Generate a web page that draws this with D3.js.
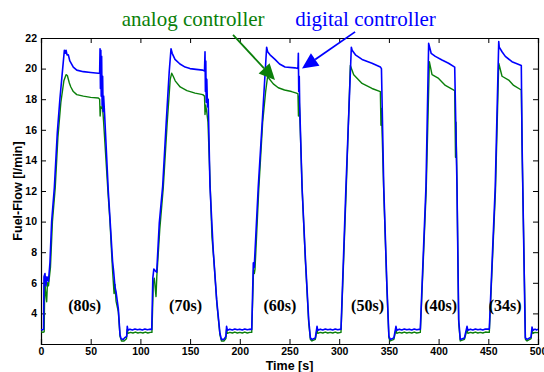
<!DOCTYPE html>
<html lang="en">
<head>
  <meta charset="utf-8">
  <title>Fuel-Flow: analog vs digital controller</title>
  <script src="https://d3js.org/d3.v7.min.js"></script>
  <style>
    body { margin: 0; background: #fff; }
    svg { display: block; }
    .tick-label { font-family: "Liberation Sans", Arial, sans-serif; font-weight: bold; font-size: 10.5px; }
    .axis-title { font-family: "Liberation Sans", Arial, sans-serif; font-weight: bold; font-size: 12.5px; }
    .cycle-label { font-family: "Liberation Serif", "Times New Roman", serif; font-weight: bold; font-size: 16px; }
    .legend-label { font-family: "Liberation Serif", "Times New Roman", serif; font-size: 21px; }
  </style>
</head>
<body>
<div id="chart"></div>
<script>
// tick values
const xTicks = [0, 50, 100, 150, 200, 250, 300, 350, 400, 450, 500];
const yTicks = [4, 6, 8, 10, 12, 14, 16, 18, 20, 22];

// digital controller (blue), [time s, flow l/min]
const digitalFlow = [
  [0,2.95],[1.5,2.92],[2.6,2.97],[3,6.4],[4,6.6],[5,5.8],[6,6.4],[7.5,6.1],[9,7.3],[10.7,10],[13.4,12.2],[16.4,15.8],[19,18],[21.8,20],
  [23.5,21.2],[24.5,21.0],[25.2,21.2],[26.2,20.9],[27.5,20.9],[29,20.5],[32.5,20.1],[36,19.9],[42.6,19.8],[50,19.75],[57.6,19.7],[59,19.7],
  [59.4,21.3],[59.8,18.7],[60.2,21.2],[60.6,18.2],[61,20.8],[61.5,17.6],[62,19.5],[62.5,17.2],[63,18.2],[64,17.0],[67.7,12],[69.4,10.2],
  [72,7.4],[73,6.8],[74.4,5.75],[75.5,5.4],[77.8,4.3],[79.5,2.6],[80.5,2.35],[82.8,2.3],[84,2.4],[86.2,2.5],[86.8,3.15],[87.5,2.9],
  [89.5,2.97],[92,2.92],[94.5,2.98],[97,2.93],[99.5,2.97],[102,2.92],[104.5,2.98],[107,2.93],[109.5,2.97],[111.4,2.95],
  [112.5,6.3],[113.5,6.9],[114.7,6.8],[116.4,6.7],[119,9.9],[122.4,12.3],[126,16.5],[129,19.8],[130.8,21.3],[132,21.0],[134.8,20.6],
  [139.8,20.3],[145,20.1],[149.9,20.0],[156,19.95],[162.7,19.9],[164.5,19.85],
  [165,21.1],[165.4,18.5],[165.8,20.5],[166.2,17.8],[166.8,19.3],[167.5,17.5],[168.2,18],[170,12.3],[173.3,8.1],[175,6.5],[176.7,4.9],
  [180,2.7],[181.5,2.3],[184,2.3],[186,2.5],[186.7,3.15],[187.5,2.9],[190,2.97],[192.5,2.92],[195,2.98],[197.5,2.93],[200,2.97],[202.5,2.92],
  [205,2.98],[207.5,2.93],[210,2.97],[212,2.95],
  [213.6,7.3],[214.5,7.0],[218.6,12.3],[223,17],[227,21.4],[228,21.1],[230.4,20.9],[235.4,20.6],[240,20.3],[245.5,20.1],[255.5,20.05],[258.5,20.0],
  [258.9,21.0],[259.3,18.5],[259.8,19.5],[260.3,17.5],[262.6,12.3],[266,7.6],[269.3,3.6],[271,2.4],[272.6,2.3],[276,2.4],[277.7,3.15],[278.5,2.9],
  [281,2.97],[283.5,2.92],[286,2.98],[288.5,2.93],[291,2.97],[293.5,2.92],[296,2.98],[298.5,2.93],[301.8,2.97],
  [306.8,12.3],[312.2,21.4],[313,21.2],[316.3,20.9],[323,20.6],[333,20.35],[341.4,20.1],[342.5,20.0],[344.8,12.3],[348,5.8],[350,2.5],
  [351.4,2.3],[355,2.4],[357.1,3.15],[358,2.9],[360.5,2.97],[363,2.92],[365.5,2.98],[368,2.93],[370.5,2.97],[373,2.92],[375.5,2.98],[378,2.93],[381.6,2.97],
  [387.3,12.3],[390,21.65],[392.5,21.0],[396.7,20.8],[403.4,20.56],[410,20.35],[416.2,20.1],[418.5,12.3],[420.2,3.6],[421.8,2.3],[426,2.4],
  [428.6,3.15],[429.5,2.9],[432,2.97],[434.5,2.92],[437,2.98],[439.5,2.93],[442,2.97],[444.5,2.92],[447,2.98],[451,2.97],
  [457,12.3],[460.5,21.76],[461,21.4],[463.8,21.1],[467.1,20.8],[473.8,20.45],[483.2,20.2],[484,15],[487.2,2.4],[489,2.3],[493,2.45],
  [494,3.1],[495,2.9],[497,2.97],[498.5,2.92],[500,2.97]
];

// analog controller (green), [time s, flow l/min]
const analogFlow = [
  [0,2.8],[2,2.76],[3.2,2.8],[3.8,6.2],[4.5,5.5],[5.7,4.76],[6.5,6.0],[7.5,5.8],[9.5,7.0],[11.5,10],[14.3,12.2],[17,15.5],[20,17.8],
  [23,19.2],[25.2,19.6],[26.5,19.55],[28.5,19.06],[30,18.8],[32.5,18.5],[36,18.3],[42.6,18.2],[50,18.12],[57.7,18.08],[59,18.0],
  [59.5,16.9],[60.2,17.5],[61,17.4],[61.8,17.6],[63,16.5],[67.5,11.8],[69.4,10],[71,8],[72,6.8],[73.5,5.3],[74.4,5.9],[75.5,4.8],
  [77.8,4.1],[79.5,2.5],[81,2.2],[83.5,2.2],[86,2.35],[86.8,2.95],[87.5,2.7],[90,2.76],[92.5,2.72],[95,2.78],[97.5,2.72],[100,2.76],
  [102.5,2.72],[105,2.78],[107.5,2.72],[110,2.76],[111.6,2.76],
  [113,6.0],[114,6.3],[115.7,5.1],[116.5,6.4],[119.5,9.5],[123,12.2],[127,16.5],[130,19.3],[131.5,19.7],[133,19.5],[135,19.2],[140,18.8],
  [146.8,18.56],[155,18.4],[162.7,18.3],[164.5,18.2],[165,17.0],[165.6,17.6],[166.5,17.3],[168,16.5],[170.5,11.8],[172,9],[173,8.2],
  [174,7.4],[175.5,6],[177,4.6],[180,2.6],[181.5,2.2],[184,2.2],[186,2.35],[186.7,2.95],[187.5,2.7],[190,2.76],[192.5,2.72],[195,2.78],
  [197.5,2.72],[200,2.76],[202.5,2.72],[205,2.78],[207.5,2.72],[210,2.76],[212,2.76],
  [213.8,6.8],[214.6,6.6],[215.3,6.9],[219,12],[223,16.5],[226,18.5],[228,19.5],[230,19.3],[233.7,19.0],[238.7,18.75],[245,18.6],
  [252,18.5],[257,18.4],[258.5,18.35],[259,16.9],[259.6,18.2],[260.2,17.3],[262.8,12],[266,7.4],[269.3,3.4],[271,2.3],[272.6,2.2],
  [276,2.3],[277.7,2.95],[278.5,2.7],[281,2.76],[283.5,2.72],[286,2.78],[288.5,2.72],[291,2.76],[293.5,2.72],[296,2.78],[298.5,2.72],[301.8,2.76],
  [307,12],[311.2,20.2],[314.6,19.6],[323,19.03],[333,18.7],[341.4,18.5],[342,16.3],[342.5,17.4],[344.8,12],[348,5.6],[350,2.4],
  [351.4,2.2],[355,2.3],[357.1,2.95],[358,2.7],[360.5,2.76],[363,2.72],[365.5,2.78],[368,2.72],[370.5,2.76],[373,2.72],[375.5,2.78],
  [378,2.72],[381.6,2.76],
  [387.5,12],[390.7,20.45],[393.4,19.6],[400,19.36],[406.8,18.9],[416.2,18.56],[417,14.2],[417.5,16.5],[418.6,12],[420.2,3.4],
  [421.8,2.2],[426,2.3],[428.6,2.95],[429.5,2.7],[432,2.76],[434.5,2.72],[437,2.78],[439.5,2.72],[442,2.76],[444.5,2.72],[447,2.78],[451,2.76],
  [457.2,12],[460.5,20.35],[463.8,19.5],[470.5,19.25],[475.5,18.9],[483.2,18.6],[484.2,14],[487.4,2.3],[489,2.2],[493,2.35],
  [494,2.9],[495,2.7],[497,2.76],[500,2.74]
];

// cycle period labels, placed in data units
const cycleLabels = ["(80s)", "(70s)", "(60s)", "(50s)", "(40s)", "(34s)"];
const cycleLabelTimes = [44, 145.4, 240.4, 328.5, 402, 467];
const cycleLabelFlow = 4.16;

// annotation arrows [tail, tip] in data units
const analogArrow = [[193.2, 22.2], [235.4, 19.25]];
const digitalArrow = [[316, 22.4], [262.6, 20.0]];

const width = 544, height = 372;
const margin = { top: 38, right: 6, bottom: 28, left: 41 };
const blue = "#0000ff", green = "#0a7f0a";

const svg = d3.select("#chart").append("svg")
  .attr("width", width)
  .attr("height", height);

const x = d3.scaleLinear().domain([0, 500]).range([margin.left, width - margin.right]);
const y = d3.scaleLinear().domain([2, 22]).range([height - margin.bottom, margin.top]);

svg.append("defs").append("clipPath").attr("id", "plot-clip")
  .append("rect")
  .attr("x", x(0)).attr("y", y(22))
  .attr("width", x(500) - x(0)).attr("height", y(2) - y(22));

// axes with inward ticks on all four sides
const tick = 5;
svg.append("g")
  .attr("transform", `translate(0,${y(2)})`)
  .call(d3.axisBottom(x).tickValues(xTicks).tickSize(-tick).tickPadding(4))
  .call(g => g.selectAll("text").attr("class", "tick-label").attr("fill", "#000"));
svg.append("g")
  .attr("transform", `translate(0,${y(22)})`)
  .call(d3.axisTop(x).tickValues(xTicks).tickSize(-tick).tickFormat(""));
svg.append("g")
  .attr("transform", `translate(${x(0)},0)`)
  .call(d3.axisLeft(y).tickValues(yTicks).tickSize(-tick).tickPadding(4))
  .call(g => g.selectAll("text").attr("class", "tick-label").attr("fill", "#000"));
svg.append("g")
  .attr("transform", `translate(${x(500)},0)`)
  .call(d3.axisRight(y).tickValues(yTicks).tickSize(-tick).tickFormat(""));
svg.selectAll(".domain").attr("stroke", "#000").attr("stroke-width", 1.2);
svg.selectAll(".tick line").attr("stroke", "#000");

// data lines
const line = d3.line().x(d => x(d[0])).y(d => y(d[1]));
const plot = svg.append("g").attr("clip-path", "url(#plot-clip)");
plot.append("path").datum(analogFlow)
  .attr("d", line).attr("fill", "none").attr("stroke", green).attr("stroke-width", 1.4)
  .attr("stroke-linejoin", "round");
plot.append("path").datum(digitalFlow)
  .attr("d", line).attr("fill", "none").attr("stroke", blue).attr("stroke-width", 1.6)
  .attr("stroke-linejoin", "round");

// cycle labels
svg.selectAll(".cycle-label").data(cycleLabels).enter().append("text")
  .attr("class", "cycle-label")
  .attr("x", (d, i) => x(cycleLabelTimes[i]))
  .attr("y", y(cycleLabelFlow))
  .attr("text-anchor", "middle")
  .text(d => d);

// axis titles
svg.append("text").attr("class", "axis-title")
  .attr("x", (x(0) + x(500)) / 2).attr("y", 369.5)
  .attr("text-anchor", "middle").text("Time [s]");
svg.append("text").attr("class", "axis-title")
  .attr("transform", `translate(22,${(y(2) + y(22)) / 2}) rotate(-90)`)
  .attr("text-anchor", "middle").text("Fuel-Flow [l/min]");

// annotation labels and arrows
svg.append("text").attr("class", "legend-label").attr("fill", green)
  .attr("x", x(81.2)).attr("y", 25.5).text("analog controller");
svg.append("text").attr("class", "legend-label").attr("fill", blue)
  .attr("x", x(255.8)).attr("y", 26).text("digital controller");

function drawArrow(pts, color) {
  const [x0, y0] = [x(pts[0][0]), y(pts[0][1])];
  const [x1, y1] = [x(pts[1][0]), y(pts[1][1])];
  const len = Math.hypot(x1 - x0, y1 - y0);
  const ux = (x1 - x0) / len, uy = (y1 - y0) / len;
  const headLen = 16, headHalf = 7.5;
  const bx = x1 - ux * headLen, by = y1 - uy * headLen;
  svg.append("line")
    .attr("x1", x0).attr("y1", y0).attr("x2", bx).attr("y2", by)
    .attr("stroke", color).attr("stroke-width", 1.8);
  svg.append("path")
    .attr("d", `M${x1},${y1}L${bx - uy * headHalf},${by + ux * headHalf}L${bx + uy * headHalf},${by - ux * headHalf}Z`)
    .attr("fill", color);
}
drawArrow(analogArrow, green);
drawArrow(digitalArrow, blue);
</script>
</body>
</html>
